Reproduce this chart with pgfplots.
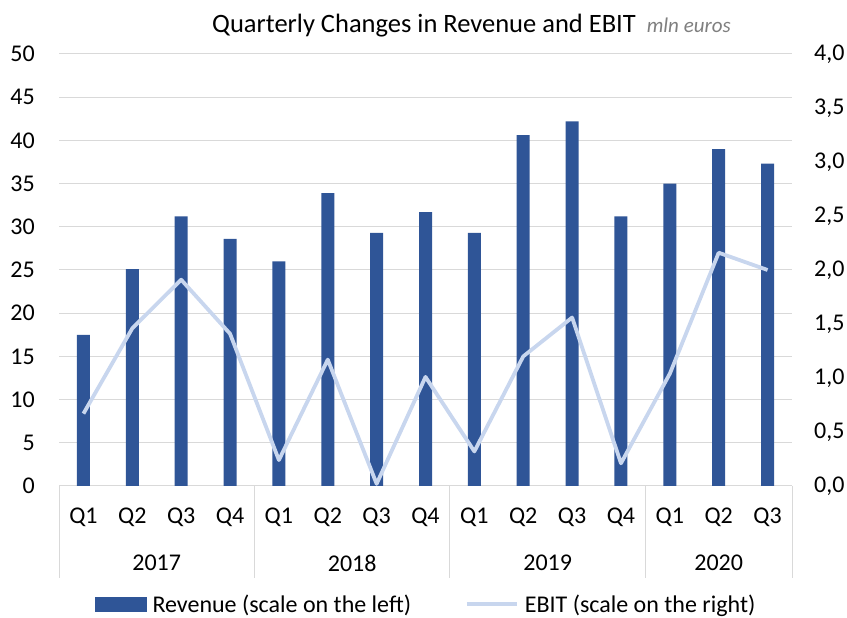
\documentclass[border=0pt]{standalone}
\usepackage{pgfplots}
\pgfplotsset{compat=1.18}
\usepackage{fontspec}
\setmainfont{Carlito}
\definecolor{barblue}{HTML}{2F5597}
\definecolor{linelight}{HTML}{C8D6EE}
\definecolor{gridgray}{HTML}{D9D9D9}
\definecolor{subgray}{HTML}{7F7F7F}
\newcommand{\tf}{\fontsize{24}{28}\selectfont}
\begin{document}
\begin{tikzpicture}[x=1pt,y=1pt]
\path[use as bounding box] (0,0) rectangle (847,618);
\node[anchor=base west, inner sep=0pt] at (212,585) {\fontsize{26.5}{30}\selectfont Quarterly Changes in Revenue and EBIT\hspace{11pt}{\color{subgray}\itshape\fontsize{21}{24}\selectfont mln euros}};
\begin{axis}[
  at={(59pt,132pt)}, anchor=south west,
  scale only axis, width=733pt, height=432pt,
  xmin=-0.5, xmax=14.5, ymin=0, ymax=50,
  ytick={0,5,...,50},
  xtick={0,...,14},
  xticklabels={Q1,Q2,Q3,Q4,Q1,Q2,Q3,Q4,Q1,Q2,Q3,Q4,Q1,Q2,Q3},
  axis line style={draw=none},
  major tick length=0pt,
  ymajorgrids, grid style={gridgray, line width=1pt},
  /pgf/number format/assume math mode=true,
  ticklabel style={font=\tf},
  yticklabel style={anchor=east, inner sep=0pt, xshift=-24pt},
  xticklabel style={anchor=center, inner sep=0pt, yshift=-31pt},
  clip=false,
]
\addplot[ybar, bar width=13pt, fill=barblue, draw=none] coordinates {
(0,17.5) (1,25.1) (2,31.2) (3,28.6) (4,26.0) (5,33.9) (6,29.3) (7,31.7)
(8,29.3) (9,40.6) (10,42.2) (11,31.2) (12,35.0) (13,39.0) (14,37.3)};
\pgfplotsinvokeforeach{-0.5,3.5,7.5,11.5,14.5}{
  \draw[gridgray, line width=1pt] (axis cs:#1,0) -- ([yshift=-92pt]axis cs:#1,0);
}
\node[font=\tf] at (axis cs:1.5,0) [yshift=-77pt] {2017};
\node[font=\tf] at (axis cs:5.5,0) [yshift=-77pt] {2018};
\node[font=\tf] at (axis cs:9.5,0) [yshift=-77pt] {2019};
\node[font=\tf] at (axis cs:13,0) [yshift=-77pt] {2020};
\end{axis}
\begin{axis}[
  at={(59pt,132pt)}, anchor=south west,
  scale only axis, width=733pt, height=432pt,
  xmin=-0.5, xmax=14.5, ymin=0, ymax=4,
  ytick={0,0.5,...,4},
  axis y line*=right, hide x axis,
  y axis line style={draw=none},
  major tick length=0pt,
  /pgf/number format/.cd, fixed, fixed zerofill, precision=1, use comma, assume math mode=true,
  /pgfplots/.cd,
  ticklabel style={font=\tf},
  yticklabel style={anchor=west, inner sep=0pt, xshift=22pt},
  clip=false,
  legend style={at={(0.501,-0.274)}, anchor=center, draw=none, fill=none,
    font=\tf, legend columns=2, /tikz/every even column/.append style={column sep=52pt},
    /tikz/every odd column/.append style={column sep=4pt}},
  legend cell align=left,
]
\addlegendimage{legend image code/.code={\fill[barblue] (0pt,-7pt) rectangle (51pt,7pt);}}
\addlegendentry{Revenue (scale on the left)}
\addplot[linelight, line width=3.8pt, line join=round, mark=none,
  legend image code/.code={\draw[linelight, line width=3.8pt] (0pt,0pt) -- (50pt,0pt);}] coordinates {
(0,0.67) (1,1.46) (2,1.91) (3,1.41) (4,0.24) (5,1.17) (6,0.02) (7,1.01)
(8,0.32) (9,1.20) (10,1.56) (11,0.21) (12,1.04) (13,2.16) (14,2.00)};
\addlegendentry{EBIT (scale on the right)}
\end{axis}
\end{tikzpicture}
\end{document}
